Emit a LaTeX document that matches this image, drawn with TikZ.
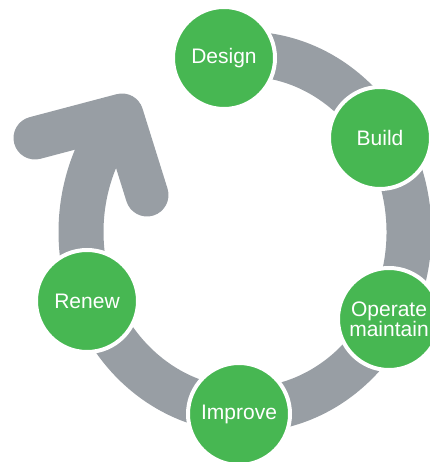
\documentclass[tikz,border=0pt]{standalone}
\usepackage{fontspec}
\setmainfont{Liberation Sans}
\usepackage{xcolor}
\definecolor{colorStage}{RGB}{71,183,82}
\definecolor{colorRing}{RGB}{152,158,164}
\usepackage{tikz}
\usetikzlibrary{positioning}
\tikzset{stage/.style={circle, fill=colorStage, draw=white, line width=4pt, minimum size=102pt, inner sep=0pt, text=white, align=center, font=\fontsize{21}{20}\selectfont}}

\begin{document}
\begin{tikzpicture}[x=1pt, y=1pt, ring/.style={colorRing, line width=45pt}, head/.style={colorRing, line width=43pt, line cap=round, line join=round}]
\useasboundingbox (0,0) rectangle (429,462);
\coordinate (c0) at (245,230);
% the cycle band
\draw[ring] ([shift={(95:164pt and 178pt)}]c0) arc[start angle=95, end angle=-213, x radius=164pt, y radius=178pt];
% arrow head
\coordinate (tip) at (122,347);
\coordinate (barbL) at (35,324);
\coordinate (barbR) at (147,267);
\draw[head] (barbL) -- (tip) -- (barbR);
% stages
\node[stage] (design) at (224,404) {Design};
\node[stage] (build) at (380,324) {Build};
\node[stage] (operate) at (389,143) {Operate\\maintain};
\node[stage] (improve) at (239,48) {Improve};
\node[stage] (renew) at (87,161) {Renew};
\end{tikzpicture}
\end{document}
